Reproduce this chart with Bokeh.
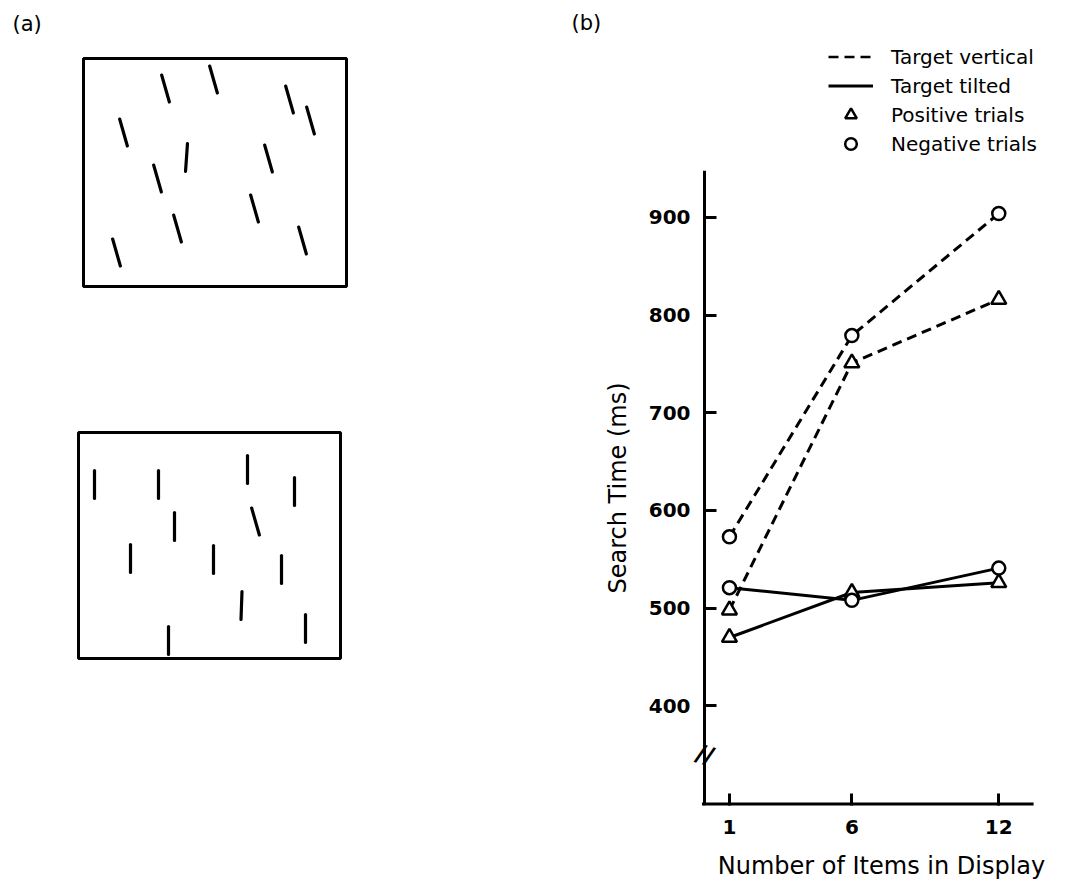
from bokeh.plotting import figure
from bokeh.layouts import row, column
from bokeh.models import (Range1d, FixedTicker, Legend, LegendItem, Label, ColumnDataSource,
                          LinearAxis)
from bokeh.core.properties import value
from bokeh.embed import file_html
from bokeh.resources import INLINE
import numpy as np

# ---------------- data: panel (b) ----------------
display_sizes = [1, 6, 12]
vertical_positive = [498, 751, 816]
vertical_negative = [573, 779, 904]
tilted_positive = [470, 516, 526]
tilted_negative = [521, 508, 541]
y_ticks = [400, 500, 600, 700, 800, 900]
legend_labels = ["Target vertical", "Target tilted", "Positive trials", "Negative trials"]
y_min, y_max = 298, 948          # drawn extent of the y axis
x_axis_end = 13.3                # drawn extent of the x axis
break_value = 350                # position of the axis-break mark

# ---------------- data: panel (a) stimulus displays ----------------
box_left = [83, 78]
box_right = [346, 340]
box_top = [58, 432]
box_bottom = [286, 658]
# item centres (display units) and tilt (degrees, clockwise from vertical)
top_x = [165, 213, 289, 310, 123, 186, 268, 157, 254, 177, 116, 302]
top_y = [88, 79, 99, 120, 132, 157, 158, 178, 208, 228, 252, 240]
top_tilt = [16, 16, 16, 16, 16, -4, 16, 16, 16, 16, 16, 16]
bot_x = [94, 158, 247, 294, 174, 255, 130, 213, 281, 241, 305, 168]
bot_y = [484, 484, 469, 491, 526, 521, 558, 559, 569, 605, 628, 640]
bot_tilt = [0, 0, 0, 0, 0, 16, 0, 0, 0, -2, 0, 0]
item_len = 28

FONT = "DejaVu Sans"
TOTAL_H = 885
LEFT_W = 600
RIGHT_W = 470
HEAD_H = 160
BORDER_L = 91
BORDER_B = 80

# ---------------- panel (a) (also carries the "(b)" tag) ----------------
pa = figure(width=LEFT_W, height=TOTAL_H, x_range=Range1d(0, LEFT_W), y_range=Range1d(TOTAL_H, 0),
            output_backend="svg", toolbar_location=None, min_border=0,
            x_axis_type=None, y_axis_type=None)
pa.grid.visible = False
pa.outline_line_color = None
pa.quad(left=box_left, right=box_right, top=box_top, bottom=box_bottom,
        fill_color=None, line_color="black", line_width=3)

xs = np.array(top_x + bot_x, dtype=float)
ys = np.array(top_y + bot_y, dtype=float)
tilt = np.radians(np.array(top_tilt + bot_tilt, dtype=float))
dx = np.sin(tilt) * item_len / 2
dy = np.cos(tilt) * item_len / 2
pa.segment(x0=xs - dx, y0=ys - dy, x1=xs + dx, y1=ys + dy,
           line_color="black", line_width=3.2, line_cap="round")
pa.text(x=[12, 571], y=[23, 22], text=["(a)", "(b)"], text_font=value(FONT), text_font_size="21px",
        text_align="left", text_baseline="middle", text_color="black")

# ---------------- panel (b) header with legend ----------------
ph = figure(width=RIGHT_W, height=HEAD_H, x_range=Range1d(0, 1), y_range=Range1d(0, 1),
            output_backend="svg", toolbar_location=None, min_border=0,
            min_border_left=BORDER_L, min_border_right=0,
            x_axis_type=None, y_axis_type=None)
ph.grid.visible = False
ph.outline_line_color = None
off = [5, 6]  # legend-only renderers, kept outside the visible range
r_dash = ph.line(off, off, line_color="black", line_width=2.5, line_dash="10 6")
r_solid = ph.line(off, off, line_color="black", line_width=3)
r_tri = ph.scatter(off, off, marker="triangle", size=14, fill_color="white",
                   line_color="black", line_width=2.5)
r_circ = ph.scatter(off, off, marker="circle", size=12, fill_color="white",
                    line_color="black", line_width=2.5)
legend = Legend(items=[LegendItem(label=legend_labels[0], renderers=[r_dash]),
                       LegendItem(label=legend_labels[1], renderers=[r_solid]),
                       LegendItem(label=legend_labels[2], renderers=[r_tri]),
                       LegendItem(label=legend_labels[3], renderers=[r_circ])],
                orientation="vertical", glyph_width=45, glyph_height=29, label_height=24,
                spacing=0, location=(136, 2),
                label_standoff=18, padding=0, margin=0,
                border_line_color=None, background_fill_alpha=0,
                label_text_font=FONT, label_text_font_size="20px",
                label_text_color="black")
ph.add_layout(legend)

# ---------------- panel (b) chart ----------------
pb = figure(width=RIGHT_W, height=TOTAL_H - HEAD_H,
            x_range=Range1d(-0.509, 14.93), y_range=Range1d(y_min, y_max),
            output_backend="svg", toolbar_location=None,
            min_border_left=BORDER_L, min_border_right=0, min_border_top=10,
            min_border_bottom=BORDER_B)
pb.grid.visible = False
pb.outline_line_color = None

src = ColumnDataSource(dict(x=display_sizes, vp=vertical_positive, vn=vertical_negative,
                            tp=tilted_positive, tn=tilted_negative))
for col, dash in (("vp", "10 6"), ("vn", "10 6"), ("tp", "solid"), ("tn", "solid")):
    pb.line("x", col, source=src, line_color="black", line_width=3, line_dash=dash)
for col, mk, sz in (("vp", "triangle", 15), ("vn", "circle", 13),
                    ("tp", "triangle", 15), ("tn", "circle", 13)):
    pb.scatter("x", col, source=src, marker=mk, size=sz, fill_color="white",
               line_color="black", line_width=2.5)

for ax in (pb.xaxis[0], pb.yaxis[0]):
    ax.axis_line_width = 3
    ax.major_tick_line_width = 3
    ax.major_tick_in = 12
    ax.major_tick_out = 0
    ax.minor_tick_line_color = None
    ax.major_label_text_font = FONT
    ax.major_label_text_font_style = "bold"
    ax.major_label_text_font_size = "20px"
    ax.major_label_text_color = "black"
    ax.axis_label_text_font = FONT
    ax.axis_label_text_font_style = "normal"
    ax.axis_label_text_font_size = "24px"
    ax.axis_label_text_color = "black"

# main y axis: tick labels and title only (line and ticks drawn by the axis at x = 0)
pb.yaxis.axis_line_color = None
pb.yaxis.major_tick_line_color = None
pb.yaxis.ticker = FixedTicker(ticks=y_ticks)
pb.yaxis.major_label_standoff = 2
pb.yaxis.axis_label = "Search Time (ms)"
pb.yaxis.axis_label_standoff = 14

# y axis line and inward ticks located at x = 0 (its labels are switched off)
y_line_axis = LinearAxis(fixed_location=0, ticker=FixedTicker(ticks=y_ticks),
                         axis_line_width=3, major_tick_line_width=3,
                         major_tick_in=12, major_tick_out=0,
                         minor_tick_line_color=None,
                         major_label_text_color=None, major_label_text_alpha=0,
                         major_label_text_font_size="1px", major_label_standoff=0)
pb.add_layout(y_line_axis, "left")

# x axis: ticks/labels from the axis, baseline from the y axis to the end of the scale
pb.xaxis.axis_line_color = None
pb.segment(x0=[0], y0=[y_min], x1=[x_axis_end], y1=[y_min], line_color="black",
           line_width=6, line_cap="square")
pb.xaxis.ticker = FixedTicker(ticks=display_sizes)
pb.xaxis.major_label_standoff = 14
pb.xaxis.axis_label = "Number of Items in Display"
pb.xaxis.axis_label_standoff = 15

# axis break mark on the y axis
pb.add_layout(Label(x=0, y=break_value, text="//", text_align="center", text_baseline="middle",
                    text_font=FONT, text_font_size="24px", text_font_style="bold",
                    angle=-0.3, text_color="black"))

layout = row(pa, column(ph, pb))
open("out.html", "w").write(file_html(layout, INLINE))
